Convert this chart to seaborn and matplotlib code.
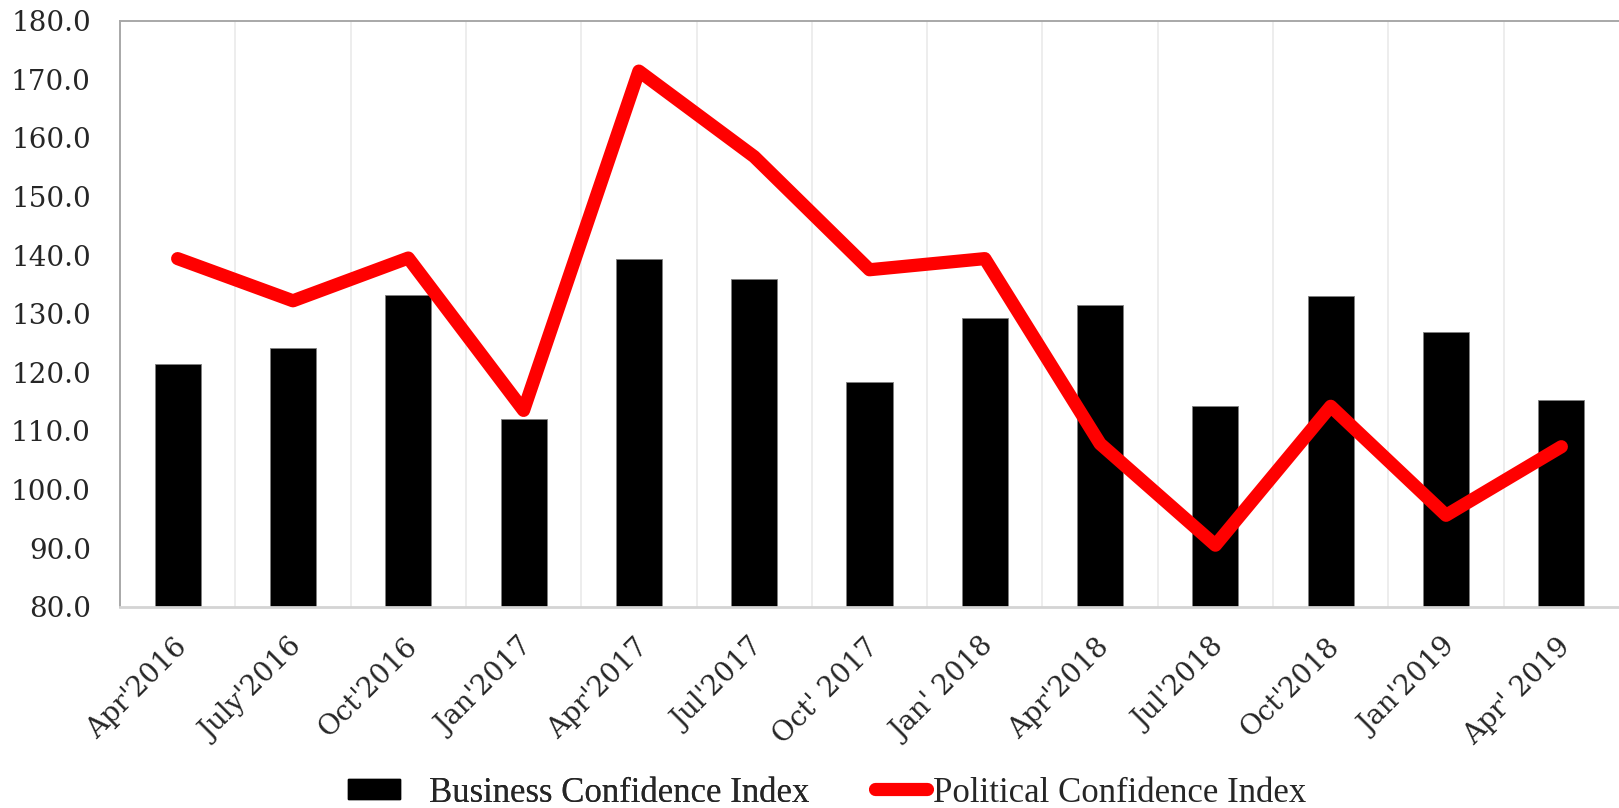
import numpy as np
import pandas as pd
import matplotlib
matplotlib.use("Agg")
import matplotlib.pyplot as plt
import matplotlib.transforms as mtransforms
from matplotlib.patches import Patch
from matplotlib.lines import Line2D
import seaborn as sns

# Quarterly survey periods
periods = ["Apr'2016", "July'2016", "Oct'2016", "Jan'2017", "Apr'2017", "Jul'2017",
           "Oct' 2017", "Jan' 2018", "Apr'2018", "Jul'2018", "Oct'2018", "Jan'2019",
           "Apr' 2019"]

# Index values per period
business = [121.5, 124.2, 133.2, 112.0, 139.4, 136.0, 118.4, 129.2, 131.4, 114.3,
            133.1, 126.9, 115.3]
political = [139.4, 132.2, 139.5, 113.5, 171.4, 156.8, 137.5, 139.4, 107.8, 90.5,
             114.2, 95.6, 107.3]

y_ticks = [80, 90, 100, 110, 120, 130, 140, 150, 160, 170, 180]

sns.set_style("white")
plt.rcParams["font.family"] = ["DejaVu Serif"]

df = pd.DataFrame({"period": periods, "business": business, "political": political,
                   "pos": np.arange(len(periods))})

fig = plt.figure(figsize=(16.19, 8.08), dpi=100)
ax = fig.add_axes([120 / 1619, 1 - 606.7 / 808, 1499 / 1619, (606.7 - 20.7) / 808])

sns.barplot(data=df, x="period", y="business", color="black", saturation=1,
            width=0.4, edgecolor="#7f7f7f", linewidth=0.6, ax=ax, zorder=2)
sns.lineplot(data=df, x="pos", y="political", color="#ff0000", linewidth=9.5,
             ax=ax, zorder=3, solid_capstyle="round", solid_joinstyle="round")

ax.set_xlim(-0.5, len(periods) - 0.5)
ax.set_ylim(80, 180)
ax.set_yticks(y_ticks)
ax.set_yticklabels([f"{v:.1f}" for v in y_ticks], fontsize=20)
ax.set_xlabel("")
ax.set_ylabel("")

# light vertical separators between periods
ax.set_xticks(np.arange(len(periods) - 1) + 0.5, minor=True)
ax.grid(False)
ax.grid(True, which="minor", axis="x", color="#ececec", linewidth=1.3, zorder=0)
ax.tick_params(axis="both", which="both", length=0)
ax.tick_params(axis="y", pad=21)
ax.tick_params(axis="x", pad=8)

ax.set_xticks(np.arange(len(periods)))
ax.set_xticklabels(periods, fontsize=20, rotation=45, ha="right",
                   va="center", rotation_mode="anchor")
offset = mtransforms.ScaledTranslation(5 / 100, -25 / 100, fig.dpi_scale_trans)
for lbl in ax.get_xticklabels():
    lbl.set_transform(lbl.get_transform() + offset)

for side in ["top", "left"]:
    ax.spines[side].set_color("#a8a8a8")
    ax.spines[side].set_linewidth(1.4)
ax.spines["bottom"].set_color("#d4d4d4")
ax.spines["bottom"].set_linewidth(2)
ax.spines["right"].set_visible(False)

legend_font = {"family": "Liberation Serif", "size": 25}
leg1 = fig.legend(handles=[Patch(facecolor="black", edgecolor="black")],
                  labels=["Business Confidence Index"], loc="center left",
                  bbox_to_anchor=(348 / 1619, 1 - 793 / 808), frameon=False,
                  prop=legend_font, handlelength=1.5, handleheight=0.52,
                  handletextpad=0.84, borderpad=0, borderaxespad=0)
leg2 = fig.legend(handles=[Line2D([0], [0], color="#ff0000", linewidth=9.5,
                                  solid_capstyle="round")],
                  labels=["Political Confidence Index"], loc="center left",
                  bbox_to_anchor=(875 / 1619, 1 - 793 / 808), frameon=False,
                  prop=legend_font, handlelength=1.5, handletextpad=0.17,
                  borderpad=0, borderaxespad=0)
fig.add_artist(leg1)

fig.savefig("out.png", dpi=100)
